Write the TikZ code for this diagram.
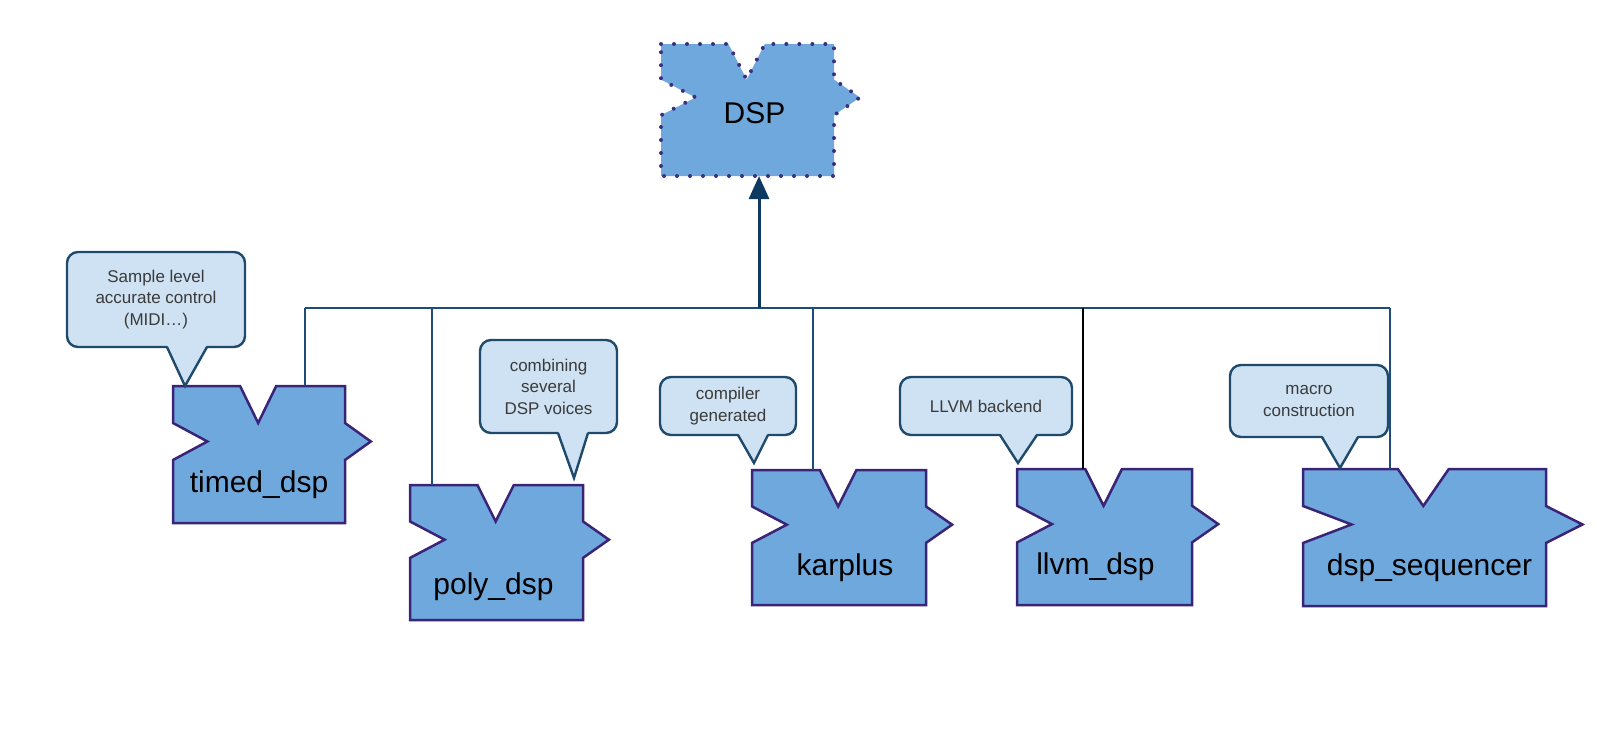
\documentclass[tikz,border=0pt]{standalone}
\usepackage{fontspec}
\setmainfont{Liberation Sans}
\usetikzlibrary{arrows.meta,calc,backgrounds}
\definecolor{blockfill}{HTML}{6FA8DC}
\definecolor{blockline}{HTML}{3A2478}
\definecolor{dotink}{HTML}{3B2F80}
\definecolor{notefill}{HTML}{CFE2F3}
\definecolor{noteline}{HTML}{1F4A6B}
\definecolor{notetext}{HTML}{3A3A3A}
\definecolor{wireline}{HTML}{1D4C78}
\definecolor{arrowink}{HTML}{0E3A61}
\newcommand{\labelfont}{\fontsize{30}{36}\selectfont}
\newcommand{\notefont}{\fontsize{17}{21.5}\selectfont}
\tikzset{
 body/.style={inner sep=0pt,outer sep=0pt,text=black},
 tag/.style={font=\labelfont,text=black,yshift=-30pt},
 piece/.style={fill=blockfill,draw=blockline,line width=2.5pt,line join=miter},
 abstract/.style={draw=dotink,dash pattern=on 0pt off 13pt,line cap=round,line width=4pt},
 remark/.style={inner sep=0pt,outer sep=0pt,font=\notefont,text=notetext,align=center},
 balloon/.style={fill=notefill,draw=noteline,line width=2.4pt,rounded corners=11pt},
 tail/.style={draw=noteline,line width=2.4pt,line join=miter},
 link/.style={draw=wireline,line width=2pt},
 bus/.style={link,line width=2.6pt},
 lift/.style={link,draw=arrowink,line width=3pt,-{Triangle[length=23pt,width=20pt]}},
}
\newcommand{\puzzle}[2][]{%
  \draw[piece,#1] let \p1=(#2.north west), \p2=(#2.south east),
    \n1={\x2-\x1}, \n2={\y1-\y2} in
    (\x1,\y1) -- ({\x1+.39*\n1},\y1) -- ({\x1+.495*\n1},{\y1-.27*\n2})
    -- ({\x1+.6*\n1},\y1) -- (\x2,\y1) -- (\x2,{\y1-.27*\n2})
    -- ({\x2+.15*\n1},{\y1-.405*\n2}) -- (\x2,{\y1-.54*\n2}) -- (\x2,\y2)
    -- (\x1,\y2) -- (\x1,{\y1-.54*\n2}) -- ({\x1+.2*\n1},{\y1-.405*\n2})
    -- (\x1,{\y1-.27*\n2}) -- cycle;}
\newcommand{\callout}[4]{%
  \draw[balloon] (#1.south west) rectangle (#1.north east);
  \fill[notefill] ([xshift=#2pt,yshift=2pt]#1.south west) -- #4
    -- ([xshift=#3pt,yshift=2pt]#1.south west) -- cycle;
  \draw[tail] ([xshift=#2pt]#1.south west) -- #4 -- ([xshift=#3pt]#1.south west);}

\begin{document}
\begin{tikzpicture}[x=1pt,y=-1pt]
\useasboundingbox (0,0) rectangle (1620,748);

\node[body,minimum width=173,minimum height=132,label={[tag,xshift=7pt,yshift=27pt]center:DSP}] (dsp) at (747.5,110) {};
\node[body,minimum width=172,minimum height=137,label={[tag]center:timed\_dsp}] (timed) at (259,454.5) {};
\node[body,minimum width=173,minimum height=135,label={[tag,xshift=-3pt,yshift=-4pt]center:poly\_dsp}] (poly) at (496.5,552.5) {};
\node[body,minimum width=174,minimum height=135,label={[tag,xshift=6pt]center:karplus}] (karplus) at (839,537.5) {};
\node[body,minimum width=175,minimum height=136,label={[tag,xshift=-9pt]center:llvm\_dsp}] (llvm) at (1104.5,537) {};
\node[body,minimum width=243,minimum height=137,label={[tag,xshift=5pt]center:dsp\_sequencer}] (seq) at (1424.5,537.5) {};

\node[remark,minimum width=178,minimum height=95] (c1) at (156,299.5) {Sample level\\accurate control\\(MIDI…)};
\node[remark,minimum width=137,minimum height=93] (c2) at (548.5,386.5) {combining\\several\\DSP voices};
\node[remark,minimum width=136,minimum height=58] (c3) at (728,406) {compiler\\generated};
\node[remark,minimum width=172,minimum height=58] (c4) at (986,406) {LLVM backend};
\node[remark,minimum width=158,minimum height=72] (c5) at (1309,401) {macro\\construction};

\begin{scope}[on background layer]
\puzzle[abstract]{dsp}
\puzzle{timed}
\puzzle{poly}
\puzzle{karplus}
\puzzle{llvm}
\puzzle{seq}
\callout{c1}{100}{140}{([xshift=12pt]timed.north west)}
\callout{c2}{78}{108}{([xshift=-9pt,yshift=7pt]poly.north east)}
\callout{c3}{78}{108}{([xshift=2pt,yshift=7pt]karplus.north west)}
\callout{c4}{100}{137}{([xshift=1pt,yshift=6pt]llvm.north west)}
\callout{c5}{92}{128}{([xshift=37pt,yshift=1pt]seq.north west)}
\end{scope}

\coordinate (busL) at (305,308);
\coordinate (busR) at (1390,308);
\coordinate (hub) at (759,308);
\coordinate (j1) at (432,308);
\coordinate (j2) at (813,308);
\coordinate (j3) at (1083,308);

\draw[bus] (busL) -- (busR);
\draw[link] (busL) -- (busL |- timed.north);
\draw[link] (j1) -- (j1 |- poly.north);
\draw[link] (j2) -- (j2 |- karplus.north);
\draw[link,draw=black,line width=1.8pt] (j3) -- (j3 |- llvm.north);
\draw[link] (busR) -- (busR |- seq.north);
\draw[lift] (hub) -- (hub |- dsp.south);

\end{tikzpicture}
\end{document}
